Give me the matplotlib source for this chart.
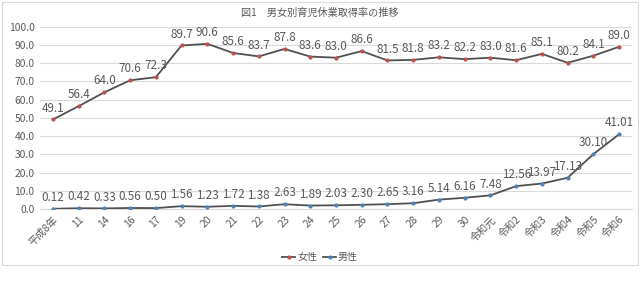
import matplotlib.pyplot as plt
from matplotlib.patches import Rectangle

plt.rcParams['font.family'] = ['Noto Sans CJK JP', 'DejaVu Sans']

years = ['平成8年', '11', '14', '16', '17', '19', '20', '21', '22', '23', '24', '25',
         '26', '27', '28', '29', '30', '令和元', '令和2', '令和3', '令和4', '令和5', '令和6']
female = [49.1, 56.4, 64.0, 70.6, 72.3, 89.7, 90.6, 85.6, 83.7, 87.8, 83.6, 83.0,
          86.6, 81.5, 81.8, 83.2, 82.2, 83.0, 81.6, 85.1, 80.2, 84.1, 89.0]
male = [0.12, 0.42, 0.33, 0.56, 0.50, 1.56, 1.23, 1.72, 1.38, 2.63, 1.89, 2.03,
        2.30, 2.65, 3.16, 5.14, 6.16, 7.48, 12.56, 13.97, 17.13, 30.10, 41.01]
yticks = [0, 10, 20, 30, 40, 50, 60, 70, 80, 90, 100]

txt = '#595959'
line_c = '#505050'

fig = plt.figure(figsize=(6.4, 3.02), dpi=100)
ax = fig.add_axes([40 / 640, 1 - 209 / 302, 592 / 640, (209 - 26.7) / 302])

x = range(len(years))
ax.plot(x, female, color=line_c, lw=1.3, marker='o', ms=2.0,
        mfc='#c0504d', mec='#c0504d', label='女性', zorder=3)
ax.plot(x, male, color=line_c, lw=1.3, marker='o', ms=2.0,
        mfc='#4f81bd', mec='#4f81bd', label='男性', zorder=3)

# data labels
for i, v in enumerate(female):
    ax.annotate(f'{v:.1f}', (i, v), xytext=(0, 3.5), textcoords='offset points',
                ha='center', va='bottom', fontsize=8.4, color=txt)
for i, v in enumerate(male):
    ax.annotate(f'{v:.2f}', (i, v), xytext=(0, 3.5), textcoords='offset points',
                ha='center', va='bottom', fontsize=8.4, color=txt)

ax.set_xlim(-0.5, len(years) - 0.5)
ax.set_ylim(0, 100)
ax.set_yticks(yticks)
ax.set_yticklabels([f'{t:.1f}' for t in yticks])
ax.set_xticks(list(x))
ax.set_xticklabels(years, rotation=45, ha='right', rotation_mode='anchor')
ax.tick_params(axis='both', length=0, labelsize=7.4, colors=txt)
ax.tick_params(axis='x', pad=4)
ax.tick_params(axis='y', pad=4)
ax.grid(axis='y', color='#d9d9d9', lw=0.8)
ax.set_axisbelow(True)
for s in ['top', 'right', 'left']:
    ax.spines[s].set_visible(False)
ax.spines['bottom'].set_color('#d9d9d9')
ax.spines['bottom'].set_linewidth(0.8)

fig.text(0.5, 1 - 13 / 302, '図1　男女別育児休業取得率の推移', ha='center', va='center',
         fontsize=7.3, color=txt)

fig.legend(loc='center', bbox_to_anchor=(0.5, 1 - 257 / 302), ncol=2, frameon=False,
           fontsize=7.2, labelcolor=txt, handlelength=1.3, handletextpad=0.2,
           columnspacing=0.6)

fig.patches.append(Rectangle((2 / 640, 1 - 265 / 302), 636 / 640, 263 / 302,
                             transform=fig.transFigure, fill=False,
                             edgecolor='#d9d9d9', lw=0.8))

fig.savefig('out.png', dpi=100, facecolor='white')
